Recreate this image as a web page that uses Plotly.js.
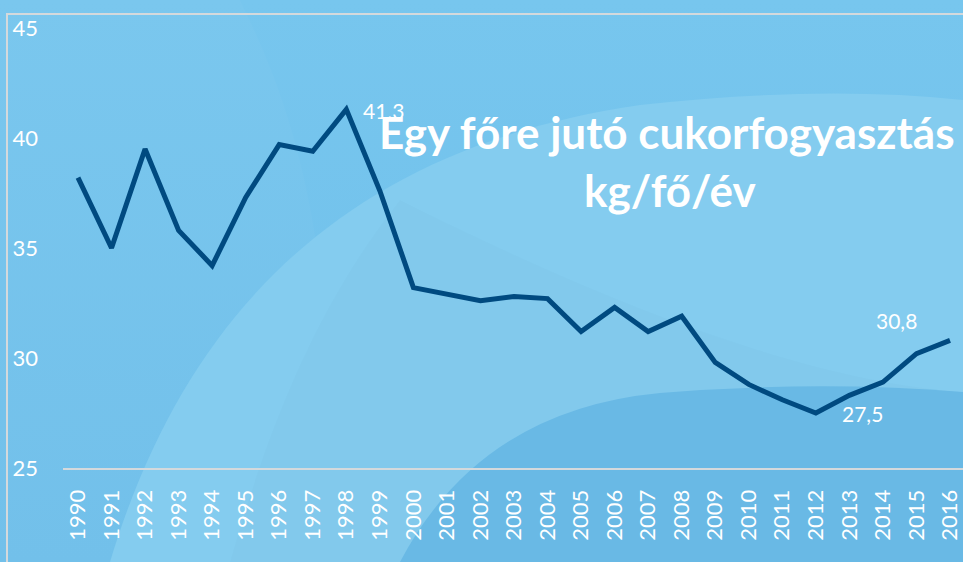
<!DOCTYPE html>
<html>
<head>
<meta charset="utf-8">
<script src="https://cdn.plot.ly/plotly-3.0.1.min.js"></script>
<style>
  html, body { margin: 0; padding: 0; }
  body { width: 963px; height: 562px; overflow: hidden; position: relative; background: #75c4ed; }
  #bg { position: absolute; left: 0; top: 0; }
  #frame { position: absolute; left: 6px; top: 13px; width: 980px; height: 600px;
           border-top: 2px solid #d4d9dc; border-left: 2px solid #d4d9dc; box-sizing: border-box; }
  #chart { position: absolute; left: 0; top: 0; width: 963px; height: 562px; }
</style>
</head>
<body>
<svg id="bg" width="963" height="562" xmlns="http://www.w3.org/2000/svg">
  <defs>
    <linearGradient id="base" x1="0" y1="0" x2="0" y2="1">
      <stop offset="0" stop-color="#77c6ee"/>
      <stop offset="1" stop-color="#6fbfea"/>
    </linearGradient>
  </defs>
  <rect x="0" y="0" width="963" height="562" fill="url(#base)"/>
  <path d="M 240 0 C 300 120, 340 260, 330 562 L 0 562 L 0 0 Z" fill="#ffffff" fill-opacity="0.025"/>
  <path d="M 110 562 C 180 330, 330 150, 640 105 Q 820 85 963 100 L 963 562 Z" fill="#84ccef"/>
  <path d="M 230 562 C 270 420, 320 300, 400 200 C 600 300, 800 380, 963 392 L 963 562 Z" fill="#000000" fill-opacity="0.012"/>
  <path d="M 400 562 Q 480 410 660 393 Q 820 380 963 392 L 963 562 Z" fill="#69b9e5"/>
</svg>
<div id="frame"></div>
<div id="chart"></div>
<script>
const years = ['1990','1991','1992','1993','1994','1995','1996','1997','1998','1999',
               '2000','2001','2002','2003','2004','2005','2006','2007','2008','2009',
               '2010','2011','2012','2013','2014','2015','2016'];
const sugar = [38.2, 35.0, 39.5, 35.8, 34.2, 37.3, 39.7, 39.4, 41.3, 37.6,
               33.2, 32.9, 32.6, 32.8, 32.7, 31.2, 32.3, 31.2, 31.9, 29.8,
               28.8, 28.1, 27.5, 28.3, 28.9, 30.2, 30.8];
const yTicks = [25, 30, 35, 40, 45];
const labelYears = ['1998', '2012', '2016'];
const labelTexts = ['41.3', '27,5', '30,8'];
const titleLine1 = 'Egy főre jutó cukorfogyasztás';
const titleLine2 = 'kg/fő/év';

const labelShift = [[38, -1], [47, 0], [-54, 20]];
const font = 'Lato, "Open Sans", sans-serif';

const annotations = labelYears.map((yr, i) => ({
  x: years.indexOf(yr), y: sugar[years.indexOf(yr)], xref: 'x', yref: 'y',
  text: labelTexts[i], showarrow: false,
  xshift: labelShift[i][0], yshift: labelShift[i][1],
  font: {family: font, size: 21, color: '#ffffff'}
}));
annotations.push({
  x: (667 - 63) / 900, y: (468 - 132) / 440, xref: 'paper', yref: 'paper', text: '<b>' + titleLine1 + '</b>',
  showarrow: false, xanchor: 'center', yanchor: 'middle',
  font: {family: font, size: 44, color: '#ffffff'}
});
annotations.push({
  x: (670 - 63) / 900, y: (468 - 190) / 440, xref: 'paper', yref: 'paper', text: '<b>' + titleLine2 + '</b>',
  showarrow: false, xanchor: 'center', yanchor: 'middle',
  font: {family: font, size: 44, color: '#ffffff'}
});

const trace = {
  x: years, y: sugar, type: 'scatter', mode: 'lines',
  line: {color: '#004a80', width: 5, shape: 'linear'},
  hoverinfo: 'skip'
};

const layout = {
  width: 963, height: 562,
  margin: {l: 63, r: 0, t: 28, b: 94, pad: 0},
  paper_bgcolor: 'rgba(0,0,0,0)', plot_bgcolor: 'rgba(0,0,0,0)',
  showlegend: false,
  font: {family: font, color: '#ffffff', size: 22},
  xaxis: {
    type: 'category', range: [-0.447, 26.387], tickangle: -90,
    showgrid: false, zeroline: false, showline: true, linecolor: '#d4d9dc', linewidth: 2,
    ticks: '', ticklabelstandoff: 11, tickfont: {family: font, size: 22, color: '#ffffff'}
  },
  yaxis: {
    range: [25, 45], tickvals: yTicks, ticktext: yTicks.map(String),
    showgrid: false, zeroline: false, showline: false, ticks: '',
    ticklabelstandoff: 24, tickfont: {family: font, size: 22, color: '#ffffff'}
  },
  annotations: annotations
};

Plotly.newPlot('chart', [trace], layout, {displayModeBar: false, staticPlot: true});
</script>
</body>
</html>
